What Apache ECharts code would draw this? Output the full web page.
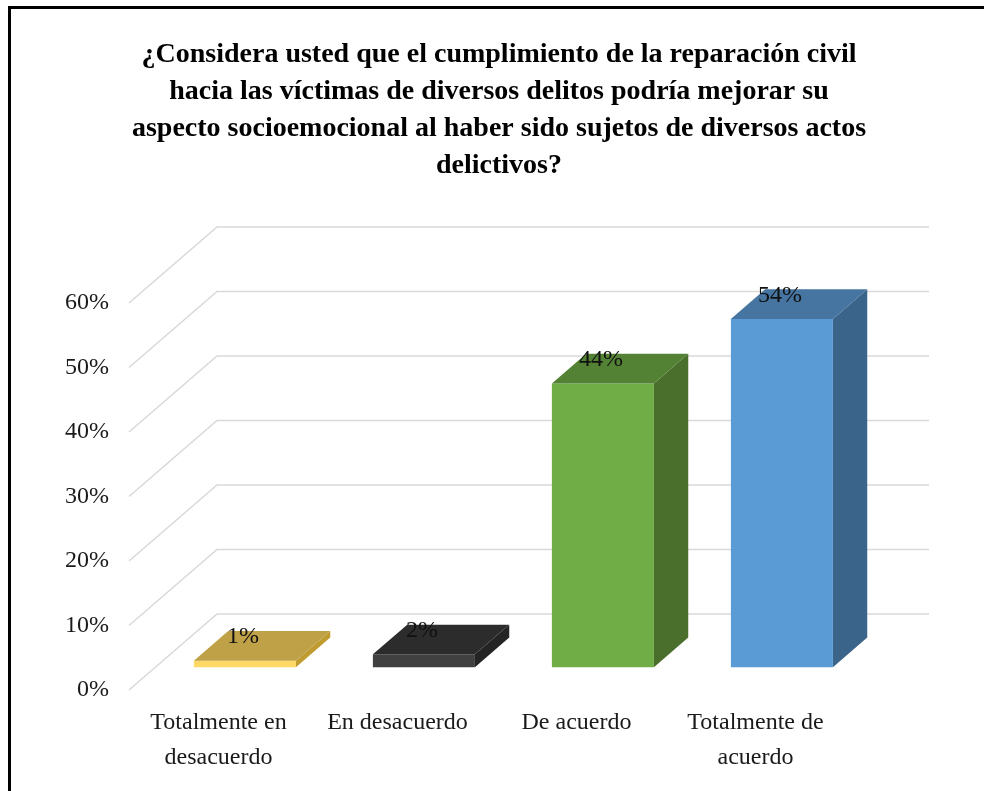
<!DOCTYPE html>
<html>
<head>
<meta charset="utf-8">
<title>Reparación civil</title>
<script src="https://cdn.jsdelivr.net/npm/echarts@6/dist/echarts.min.js"></script>
<style>
  html, body { margin: 0; padding: 0; background: #fff; }
  #chart { width: 984px; height: 791px; }
</style>
</head>
<body>
<div id="chart"></div>
<script>
// datos
const categorias = ['Totalmente en\ndesacuerdo', 'En desacuerdo', 'De acuerdo', 'Totalmente de\nacuerdo']
const porcentajes = [1, 2, 44, 54]
const ticks = [0, 10, 20, 30, 40, 50, 60]

// colores de cada barra: frente, tapa, lado
const colFrente = ['#ffd966', '#404040', '#70ad47', '#5b9bd5']
const colTapa = ['#bfa148', '#2c2c2c', '#548235', '#4675a2']
const colLado = ['#bf9b30', '#242424', '#4a6e2c', '#3a6489']

// profundidad del piso (perspectiva oblicua)
const fondoX = 88
const fondoY = -76
const ini = 0.30  // la barra empieza a este % de profundidad
const prof = 0.39 // profundidad de la barra

const myChart = echarts.init(document.getElementById('chart'))

function renderGrid(params, api) {
  const cs = params.coordSys
  const y = api.coord([0, api.value(1)])[1]
  return {
    type: 'polyline',
    shape: {
      points: [
        [cs.x, y],
        [cs.x + fondoX, y + fondoY],
        [cs.x + cs.width + 84, y + fondoY]
      ]
    },
    style: { fill: null, stroke: '#d9d9d9', lineWidth: 1.5 },
    silent: true
  }
}

function renderBar(params, api) {
  const i = api.value(0)
  const base = api.coord([i, 0])
  const top = api.coord([i, api.value(1)])
  const band = api.size([1, 0])[0]
  const w = band * 0.57
  const ox = fondoX * ini
  const oy = fondoY * ini
  const dx = fondoX * prof
  const dy = fondoY * prof
  const xl = base[0] + ox - w / 2
  const xr = xl + w
  const yb = base[1] + oy
  const yt = top[1] + oy
  return {
    type: 'group',
    children: [
      {
        type: 'polygon',
        shape: { points: [[xr, yt], [xr, yb], [xr + dx, yb + dy], [xr + dx, yt + dy]] },
        style: { fill: colLado[i] }
      },
      {
        type: 'rect',
        shape: { x: xl, y: yt, width: w, height: yb - yt },
        style: { fill: colFrente[i] }
      },
      {
        type: 'polygon',
        shape: { points: [[xl, yt], [xr, yt], [xr + dx, yt + dy], [xl + dx, yt + dy]] },
        style: { fill: colTapa[i] }
      },
      {
        type: 'text',
        x: base[0] + ox - 2,
        y: yt + dy + 6,
        style: {
          text: api.value(1) + '%',
          fill: '#111',
          font: '24px "Liberation Serif"',
          align: 'center',
          verticalAlign: 'middle'
        }
      }
    ]
  }
}

const option = {
  animation: false,
  backgroundColor: '#fff',
  title: {
    text: '¿Considera usted que el cumplimiento de la reparación civil\nhacia las víctimas de diversos delitos podría mejorar su\naspecto socioemocional al haber sido sujetos de diversos actos\ndelictivos?',
    left: 494,
    top: 31,
    textAlign: 'center',
    textStyle: {
      fontFamily: 'Liberation Serif',
      fontWeight: 'bold',
      fontSize: 28,
      lineHeight: 37,
      color: '#000'
    }
  },
  graphic: [
    { type: 'line', shape: { x1: 8, y1: 7.5, x2: 984, y2: 7.5 }, style: { stroke: '#000', lineWidth: 3 } },
    { type: 'line', shape: { x1: 9.5, y1: 6, x2: 9.5, y2: 791 }, style: { stroke: '#000', lineWidth: 3 } }
  ],
  grid: {
    left: 129,
    right: 139,
    top: 303,
    bottom: 101
  },
  xAxis: {
    type: 'category',
    data: categorias,
    axisLine: { show: false },
    axisTick: { show: false },
    axisLabel: {
      interval: 0,
      margin: 15,
      fontFamily: 'Liberation Serif',
      fontSize: 24,
      lineHeight: 35,
      color: '#1a1a1a'
    }
  },
  yAxis: {
    type: 'value',
    min: 0,
    max: 60,
    interval: 10,
    axisLine: { show: false },
    axisTick: { show: false },
    splitLine: { show: false },
    axisLabel: {
      formatter: '{value}%',
      margin: 20,
      padding: [8, 0, 0, 0],
      fontFamily: 'Liberation Serif',
      fontSize: 24,
      color: '#1a1a1a'
    }
  },
  series: [
    {
      type: 'custom',
      z: 1,
      renderItem: renderGrid,
      data: ticks.map(v => [0, v])
    },
    {
      type: 'custom',
      z: 2,
      renderItem: renderBar,
      data: porcentajes.map((v, i) => [i, v])
    }
  ]
}

myChart.setOption(option)
</script>
</body>
</html>
